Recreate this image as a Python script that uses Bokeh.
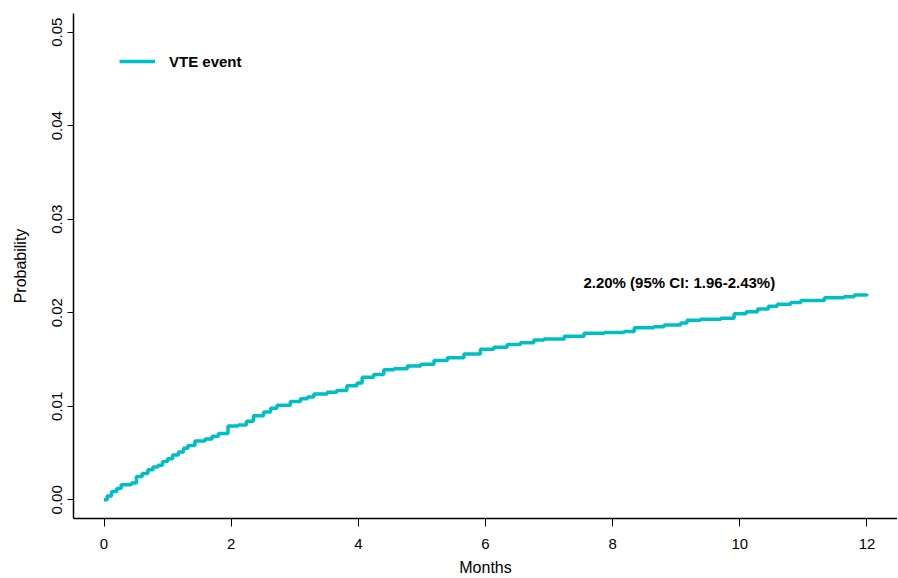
from bokeh.plotting import figure
from bokeh.models import Range1d, FixedTicker, Legend, LegendItem, Label
from bokeh.embed import file_html
from bokeh.resources import INLINE

# ---- data ----
months = [0, 0.05, 0.12, 0.2, 0.27, 0.43, 0.51, 0.6, 0.69, 0.77, 0.85, 0.92,
          1.0, 1.08, 1.17, 1.25, 1.32, 1.43, 1.59, 1.7, 1.80, 1.95, 2.11, 2.24,
          2.35, 2.51, 2.62, 2.72, 2.93, 3.09, 3.2, 3.30, 3.51, 3.66, 3.82, 3.98,
          4.06, 4.24, 4.40, 4.56, 4.77, 4.98, 5.19, 5.40, 5.66, 5.92, 6.13, 6.34,
          6.55, 6.76, 6.92, 7.24, 7.55, 7.87, 8.18, 8.34, 8.65, 8.81, 9.07, 9.17,
          9.38, 9.70, 9.91, 10.1, 10.28, 10.45, 10.59, 10.8, 10.96, 11.33, 11.64,
          11.8, 12.0]
probability = [0, 0.0004, 0.0009, 0.0012, 0.0016, 0.0018, 0.0025, 0.0028, 0.0032,
               0.0035, 0.0037, 0.0041, 0.0044, 0.0048, 0.0051, 0.0055, 0.0058,
               0.0063, 0.0065, 0.0068, 0.0071, 0.0079, 0.0080, 0.0084, 0.0090,
               0.0094, 0.0098, 0.0101, 0.0105, 0.0108, 0.0110, 0.0113, 0.0115,
               0.0117, 0.0122, 0.0125, 0.0131, 0.0134, 0.0139, 0.0140, 0.0143,
               0.0145, 0.0149, 0.0152, 0.0156, 0.0161, 0.0163, 0.0166, 0.0168,
               0.0171, 0.0172, 0.0175, 0.0178, 0.0179, 0.0180, 0.0184, 0.0185,
               0.0187, 0.0189, 0.0192, 0.0193, 0.0194, 0.0199, 0.0201, 0.0204,
               0.0207, 0.0209, 0.0211, 0.0213, 0.0216, 0.0217, 0.0219, 0.0220]
series_name = "VTE event"
annotation_text = "2.20% (95% CI: 1.96-2.43%)"
annotation_x = 7.54
annotation_y = 0.0232
x_ticks = [0, 2, 4, 6, 8, 10, 12]
y_ticks = [0.00, 0.01, 0.02, 0.03, 0.04, 0.05]
y_tick_labels = ["0.00", "0.01", "0.02", "0.03", "0.04", "0.05"]

FONT = "Liberation Sans"
COLOR = "#00BFC4"

p = figure(width=897, height=578, output_backend="svg", toolbar_location=None,
           x_range=Range1d(-0.48, 12.48), y_range=Range1d(-0.002, 0.052),
           min_border_left=73, min_border_right=0, min_border_top=13,
           min_border_bottom=58)
p.outline_line_color = None
p.grid.visible = False
p.background_fill_color = "white"
p.border_fill_color = "white"

r = p.step(months, probability, mode="after", line_color=COLOR, line_width=3.5)

for ax in (p.xaxis[0], p.yaxis[0]):
    ax.axis_line_color = "black"
    ax.axis_line_width = 1.5
    ax.major_tick_line_color = "black"
    ax.major_tick_line_width = 1
    ax.minor_tick_line_color = None
    ax.major_tick_in = 0
    ax.major_label_text_font = FONT
    ax.major_label_text_font_size = "15px"
    ax.major_label_text_color = "black"
    ax.axis_label_text_font = FONT
    ax.axis_label_text_font_size = "16px"
    ax.axis_label_text_font_style = "normal"
    ax.axis_label_text_color = "black"

p.xaxis.ticker = FixedTicker(ticks=x_ticks)
p.xaxis.major_tick_out = 8
p.xaxis.major_label_standoff = 12
p.xaxis.axis_label = "Months"
p.xaxis.axis_label_standoff = 7

p.yaxis.ticker = FixedTicker(ticks=y_ticks)
p.yaxis.major_label_overrides = {t: s for t, s in zip(y_ticks, y_tick_labels)}
p.yaxis.major_tick_out = 6
p.yaxis.major_label_standoff = 5
p.yaxis.major_label_orientation = "vertical"
p.yaxis.axis_label = "Probability"
p.yaxis.axis_label_standoff = 21

legend = Legend(items=[LegendItem(label=series_name, renderers=[r])],
                location=(46, 447), padding=10, margin=0,
                glyph_width=36, glyph_height=20, label_height=20,
                label_standoff=14, border_line_color=None,
                background_fill_alpha=0,
                label_text_font=FONT, label_text_font_size="15px",
                label_text_font_style="bold", label_text_color="black")
p.add_layout(legend)

p.add_layout(Label(x=annotation_x, y=annotation_y, text=annotation_text,
                   text_font=FONT, text_font_size="15px", text_font_style="bold",
                   text_baseline="middle", text_color="black"))

open("out.html", "w").write(file_html(p, INLINE))
